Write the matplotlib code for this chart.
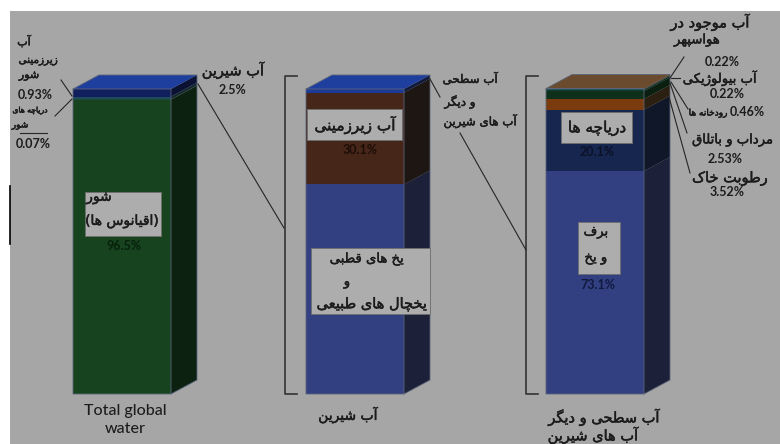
"""Distribution of the world's water: three stacked 3D-look columns, Persian labels."""
import unicodedata

import matplotlib

matplotlib.use("Agg")
import matplotlib.patheffects as pe
import matplotlib.pyplot as plt

# ---------------------------------------------------------------------------
# Data
# ---------------------------------------------------------------------------
total_values = [96.5, 0.07, 0.93, 2.5]            # bottom to top
total_front = ["#17431f", "#1c4a3a", "#1e4a5a", "#121f5e"]
total_side = ["#0c2110", "#10281c", "#142a30", "#0b1233"]
total_top = "#1f3f9f"

fresh_values = [68.7, 30.1, 1.2]
fresh_front = ["#323f80", "#47261a", "#1c3a96"]
fresh_side = ["#1c2038", "#1d1612", "#111a3c"]
fresh_top = "#1f3f9f"

surface_values = [73.1, 20.1, 3.52, 2.53, 0.46, 0.22, 0.22]
surface_front = ["#323f80", "#17264f", "#7a3c0f", "#0e2f1a", "#123d2a", "#1e5060", "#6b4b2e"]
surface_side = ["#1c2038", "#101729", "#2a1f10", "#0a1f10", "#0c2a1c", "#10303a", "#3a2a1a"]
surface_top = "#6b4b2e"

bar_left = [73, 306, 546]
category_labels = ["Total global\nwater", "آب شیرین"]

# ---------------------------------------------------------------------------
# Persian shaping: matplotlib has no joining or right-to-left layout
# ---------------------------------------------------------------------------
FORMS = {}
for cp in range(0xFB50, 0xFEFD):
    parts = unicodedata.decomposition(chr(cp)).split()
    if len(parts) == 2 and parts[0] in ("<isolated>", "<final>", "<initial>", "<medial>"):
        FORMS.setdefault(chr(int(parts[1], 16)), {})[parts[0]] = chr(cp)


def joins_next(ch):
    return ch in FORMS and "<initial>" in FORMS[ch]


def fa(text):
    out = []
    for i, ch in enumerate(text):
        if ch not in FORMS:
            out.append({"(": ")", ")": "("}.get(ch, ch))
            continue
        before = i > 0 and joins_next(text[i - 1])
        after = i + 1 < len(text) and text[i + 1] in FORMS and joins_next(ch)
        kind = {(0, 0): "<isolated>", (1, 0): "<final>", (0, 1): "<initial>", (1, 1): "<medial>"}[(before, after)]
        out.append(FORMS[ch].get(kind, ch))
    return "".join(reversed(out))


# ---------------------------------------------------------------------------
# Layout
# ---------------------------------------------------------------------------
plt.rcParams["font.family"] = ["DejaVu Sans"]

BG = "#a6a6a6"
INK = "#1c1c1c"
BAR_W = 98
DEPTH = 26
PX_PER_PCT = 3.05
RISE = 14 / PX_PER_PCT

fig = plt.figure(figsize=(7.8, 4.44), dpi=100, facecolor="white")
rect = [10 / 780, 0, 770 / 780, 433 / 444]

ax = fig.add_axes(rect, facecolor=BG)
ax.set_xlim(10, 780)
ax.set_ylim((394 - 444) / PX_PER_PCT, (394 - 11) / PX_PER_PCT)
ax.set_xticks([])
ax.set_yticks([])
for s in ax.spines.values():
    s.set_visible(False)

# overlay in image pixels for labels and leader lines
ov = fig.add_axes(rect, facecolor="none")
ov.set_xlim(10, 780)
ov.set_ylim(444, 11)
ov.axis("off")


def column(left, values, front, side, top):
    bottom = 0.0
    right = left + BAR_W
    for val, fc, sc in zip(values, front, side):
        ax.bar(left, val, BAR_W, bottom=bottom, align="edge", color=fc, linewidth=0)
        ax.fill([right, right + DEPTH, right + DEPTH, right],
                [bottom, bottom + RISE, bottom + val + RISE, bottom + val],
                color=sc, linewidth=0)
        bottom += val
    ax.fill([left, right, right + DEPTH, left + DEPTH],
            [bottom, bottom, bottom + RISE, bottom + RISE], color=top, linewidth=0)
    # thin light edge around the box
    ax.plot([left, left, right, right + DEPTH, right + DEPTH, left + DEPTH, left, right, right],
            [bottom, 0, 0, RISE, bottom + RISE, bottom + RISE, bottom, bottom, 0],
            color="#5b6478", lw=0.6)


column(bar_left[0], total_values, total_front, total_side, total_top)
column(bar_left[1], fresh_values, fresh_front, fresh_side, fresh_top)
column(bar_left[2], surface_values, surface_front, surface_side, surface_top)

# brackets
for x in (285, 526):
    ov.plot([x + 12, x, x, x + 12], [76, 76, 394, 394], color="#333333", lw=1.2)

# leader lines
leaders = [
    ((61, 80), (72, 96)), ((72, 99), (55, 116)), ((20, 133), (47, 133)),
    ((198, 84), (284, 228)), ((430, 79), (440, 97)), ((460, 133), (526, 250)),
    ((684, 57), (670, 78)), ((680, 78), (671, 78)), ((688, 109), (671, 82)),
    ((687, 133), (670, 83)), ((690, 173), (669, 97)),
]
for (x0, y0), (x1, y1) in leaders:
    ov.plot([x0, x1], [y0, y1], color="#262626", lw=0.8)

# stray black rule on the left edge
fig.add_artist(plt.Line2D([9.5 / 780, 9.5 / 780], [1 - 186 / 444, 1 - 244 / 444], color="black", lw=1.2))

# boxes behind labels: x0, y0, x1, y1
boxes = [(85, 192, 161, 236), (307, 109, 402, 140), (311, 248, 430, 314),
         (561, 112, 632, 143), (578, 222, 620, 274)]
for x0, y0, x1, y1 in boxes:
    ov.fill([x0, x1, x1, x0], [y0, y0, y1, y1], facecolor="#adadad", edgecolor="#6e6e6e", lw=0.6)

# Persian labels: x, y, text, size
persian = [
    (24, 41, "آب", 8), (38, 60, "زیرزمینی", 7.5), (29, 76, "شور", 8),
    (30, 110, "دریاچه های", 5.5), (20, 125, "شور", 6.5),
    (233, 70, "آب شیرین", 10.5),
    (99, 197, "شور", 10), (122, 221, "(اقیانوس ها)", 10),
    (355, 125, "آب زیرزمینی", 11),
    (367, 259, "یخ های قطبی", 9.5), (347, 282, "و", 9.5), (372, 304, "یخچال های طبیعی", 10.5),
    (470, 79, "آب سطحی", 8.5), (460, 102, "و دیگر", 8.5), (480, 121, "آب های شیرین", 8.5),
    (597, 128, "دریاچه ها", 11), (596, 232, "برف", 9.5), (596, 258, "و یخ", 9.5),
    (710, 22, "آب موجود در", 10.5), (697, 40, "هواسپهر", 9.5),
    (720, 78, "آب بیولوژیکی", 9.5), (708, 113, "رودخانه ها", 6.5),
    (733, 140, "مرداب و باتلاق", 9.5), (730, 178, "رطوبت خاک", 10.5),
    (348, 415, category_labels[1], 10), (604, 417, "آب سطحی و دیگر", 10.5),
    (593, 435, "آب های شیرین", 10.5),
]
for x, y, s, size in persian:
    ov.text(x, y, fa(s), fontsize=size, color=INK, ha="center", va="center",
            path_effects=[pe.withStroke(linewidth=0.35, foreground=INK)])

# percentages: x, y, text, colour
percents = [
    (35, 95, "0.93%", INK), (33, 144, "0.07%", INK), (232, 90, "2.5%", INK),
    (124, 246, "96.5%", "#06200c"), (360, 150, "30.1%", "#1c0d06"),
    (597, 152, "20.1%", "#0b1228"), (598, 285, "73.1%", "#0f1a40"),
    (722, 62, "0.22%", INK), (727, 94, "0.22%", INK), (747, 112, "0.46%", INK),
    (725, 159, "2.53%", INK), (727, 192, "3.52%", INK),
]
for x, y, s, c in percents:
    ov.text(x, y, s, fontsize=9, color=c, family="Lato", weight="bold",
            ha="center", va="center")

ov.text(125, 420, category_labels[0], fontsize=11.5, color=INK, family="Lato",
        weight="medium", ha="center", va="center", linespacing=1.3)

fig.savefig("out.png", dpi=100)
